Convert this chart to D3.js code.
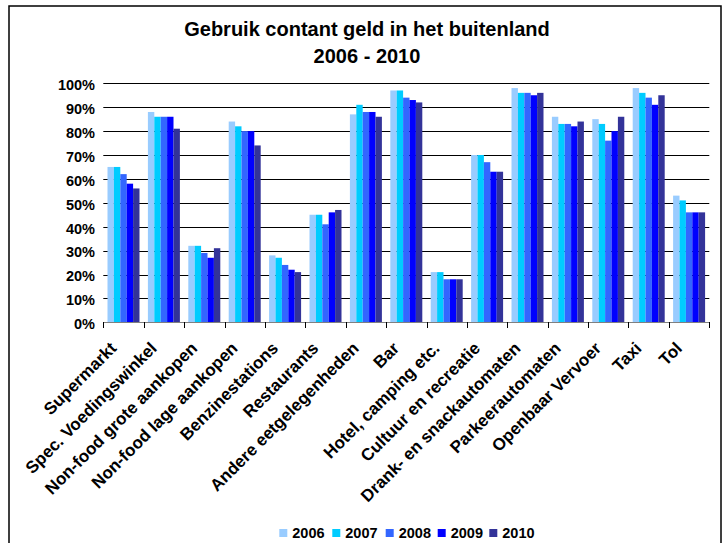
<!DOCTYPE html>
<html>
<head>
<meta charset="utf-8">
<script src="https://cdn.jsdelivr.net/npm/d3@7"></script>
<style>
  html, body { margin: 0; padding: 0; background: #fff; }
  svg { display: block; font-family: Arial, "Liberation Sans", sans-serif; }
</style>
</head>
<body>
<svg id="chart" width="725" height="543"></svg>
<script>
const categories = [
  "Supermarkt", "Spec. Voedingswinkel", "Non-food grote aankopen", "Non-food lage aankopen",
  "Benzinestations", "Restaurants", "Andere eetgelegenheden", "Bar", "Hotel, camping etc.",
  "Cultuur en recreatie", "Drank- en snackautomaten", "Parkeerautomaten", "Openbaar Vervoer",
  "Taxi", "Tol"
];
const years = ["2006", "2007", "2008", "2009", "2010"];
const v2006 = [65, 88, 32, 84, 28, 45, 87, 97, 21, 70, 98, 86, 85, 98, 53];
const v2007 = [65, 86, 32, 82, 27, 45, 91, 97, 21, 70, 96, 83, 83, 96, 51];
const v2008 = [62, 86, 29, 80, 24, 41, 88, 94, 18, 67, 96, 83, 76, 94, 46];
const v2009 = [58, 86, 27, 80, 22, 46, 88, 93, 18, 63, 95, 82, 80, 91, 46];
const v2010 = [56, 81, 31, 74, 21, 47, 86, 92, 18, 63, 96, 84, 86, 95, 46];
const yTicks = [0, 10, 20, 30, 40, 50, 60, 70, 80, 90, 100];
const colors = ["#99CCFF", "#00CCFF", "#3366FF", "#0000FF", "#333399"];
const titleLines = ["Gebruik contant geld in het buitenland", "2006 - 2010"];

const series = [v2006, v2007, v2008, v2009, v2010];

const svg = d3.select("#chart");

// chart border
svg.append("rect")
  .attr("x", 9).attr("y", 6).attr("width", 712).attr("height", 560)
  .attr("fill", "none").attr("stroke", "#000").attr("stroke-width", 1.5);

// title
svg.append("g").selectAll("text").data(titleLines).join("text")
  .attr("x", 367).attr("y", (d, i) => 36 + i * 27)
  .attr("text-anchor", "middle")
  .attr("font-size", "20px").attr("font-weight", "bold").attr("fill", "#000")
  .text(d => d);

const plotL = 103.3, plotR = 709.3, plotT = 83.3, plotB = 322.3;

const y = d3.scaleLinear().domain([0, 100]).range([plotB, plotT]);
const x = d3.scaleBand().domain(categories).range([plotL, plotR]).paddingInner(0).paddingOuter(0);
const step = x.bandwidth();
const inset = step * 0.104;
const xs = d3.scaleBand().domain(years).range([0, step * 0.792]).padding(0);

// gridlines
svg.append("g").selectAll("line").data(yTicks.filter(t => t > 0)).join("line")
  .attr("x1", plotL).attr("x2", plotR)
  .attr("y1", d => Math.round(y(d)) + 0.5).attr("y2", d => Math.round(y(d)) + 0.5)
  .attr("stroke", "#000").attr("stroke-width", 1);

// y labels
svg.append("g").selectAll("text").data(yTicks).join("text")
  .attr("x", 95).attr("y", d => y(d) + 6.8)
  .attr("text-anchor", "end")
  .attr("font-size", "14.5px").attr("font-weight", "bold").attr("fill", "#000")
  .text(d => d + "%");

// bars
const groups = svg.append("g").selectAll("g").data(categories).join("g")
  .attr("transform", c => `translate(${x(c) + inset},0)`);
groups.selectAll("rect").data((c, i) => years.map((yr, j) => ({ yr, j, v: series[j][i] })))
  .join("rect")
  .attr("x", d => xs(d.yr))
  .attr("width", xs.bandwidth())
  .attr("y", d => y(d.v))
  .attr("height", d => plotB - y(d.v))
  .attr("fill", d => colors[d.j]);

// x axis line and ticks
svg.append("line")
  .attr("x1", plotL).attr("x2", plotR)
  .attr("y1", Math.round(plotB) + 0.5).attr("y2", Math.round(plotB) + 0.5)
  .attr("stroke", "#808080").attr("stroke-width", 1);
const tickPos = categories.map(c => x(c)).concat([plotR]);
svg.append("g").selectAll("line").data(tickPos).join("line")
  .attr("x1", d => Math.round(d) + 0.5).attr("x2", d => Math.round(d) + 0.5)
  .attr("y1", Math.round(plotB)).attr("y2", Math.round(plotB) + 6)
  .attr("stroke", "#000").attr("stroke-width", 1);

// x labels
svg.append("g").selectAll("text").data(categories).join("text")
  .attr("transform", c => `translate(${x(c) + step / 2 - 6},${plotB + 27}) rotate(-45)`)
  .attr("text-anchor", "end")
  .attr("font-size", "17px").attr("font-weight", "bold").attr("fill", "#000")
  .text(d => d);

// legend
const legendX = [279.3, 332.3, 385.7, 437.7, 489.3];
const lg = svg.append("g").selectAll("g").data(years).join("g")
  .attr("transform", (d, i) => `translate(${legendX[i]},529)`);
lg.append("rect").attr("width", 8).attr("height", 8).attr("fill", (d, i) => colors[i]);
lg.append("text").attr("x", 13).attr("y", 9)
  .attr("font-size", "14.5px").attr("font-weight", "bold").attr("fill", "#000")
  .text(d => d);
</script>
</body>
</html>
